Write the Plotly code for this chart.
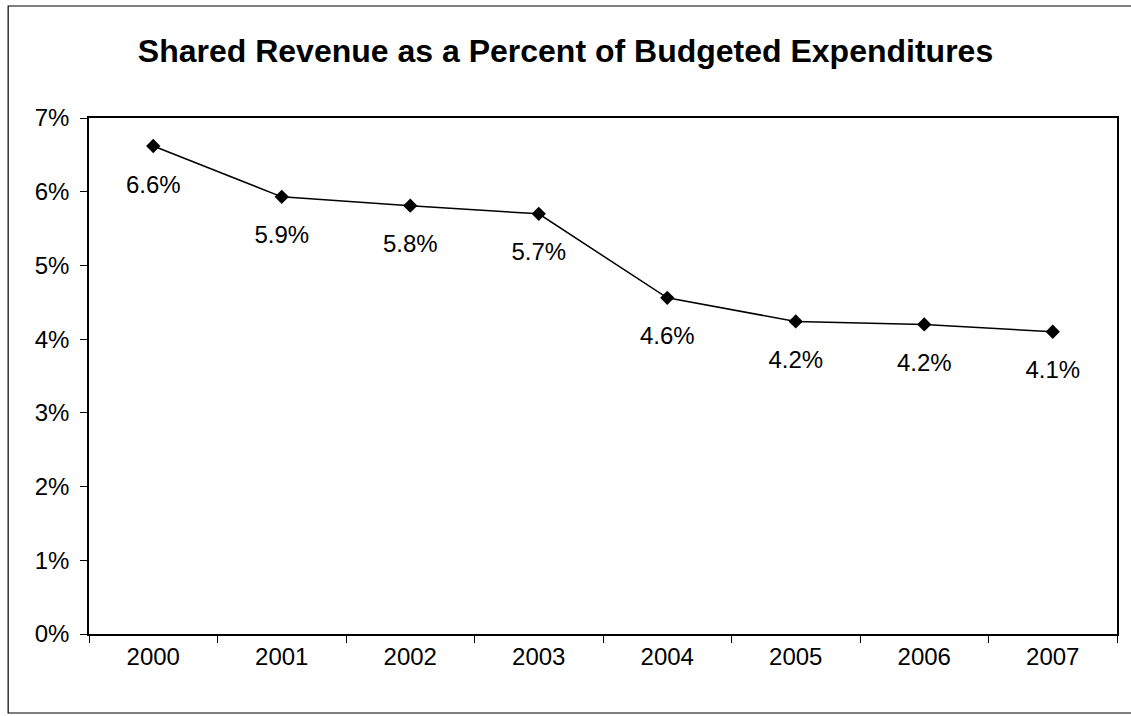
import plotly.graph_objects as go

years = ["2000", "2001", "2002", "2003", "2004", "2005", "2006", "2007"]
values = [6.62, 5.93, 5.81, 5.70, 4.56, 4.24, 4.20, 4.10]
labels = ["6.6%", "5.9%", "5.8%", "5.7%", "4.6%", "4.2%", "4.2%", "4.1%"]
y_ticks = [0, 1, 2, 3, 4, 5, 6, 7]
y_tick_text = ["0%", "1%", "2%", "3%", "4%", "5%", "6%", "7%"]
title = "Shared Revenue as a Percent of Budgeted Expenditures"

FONT = "Arial"

fig = go.Figure()
# invisible large markers push the value labels down below each point
fig.add_trace(go.Scatter(
    x=years, y=values, mode="markers+text", text=labels,
    textposition="bottom center",
    marker=dict(size=44, color="rgba(0,0,0,0)"),
    textfont=dict(family=FONT, size=24, color="black"),
    hoverinfo="skip", showlegend=False,
))
fig.add_trace(go.Scatter(
    x=years, y=values, mode="lines+markers",
    line=dict(color="black", width=1.5),
    marker=dict(symbol="diamond", size=11, color="black"),
    hoverinfo="skip", showlegend=False,
))

fig.update_layout(
    width=1131, height=716,
    margin=dict(l=89, r=12, t=118, b=82),
    paper_bgcolor="white", plot_bgcolor="white",
    title=dict(text="<b>" + title + "</b>", x=0.5, xanchor="center",
               y=1 - 51 / 716, yanchor="middle",
               font=dict(family=FONT, size=32, color="black")),
    font=dict(family=FONT, size=24, color="black"),
)
fig.update_xaxes(type="category", showgrid=False, showline=True, linecolor="black",
                 linewidth=1.5, mirror=True, ticks="outside", tickson="boundaries",
                 ticklen=7, tickcolor="black", range=[-0.5, 7.5],
                 tickfont=dict(family=FONT, size=24, color="black"), zeroline=False)
fig.update_yaxes(range=[0, 7], tickmode="array", tickvals=y_ticks, ticktext=y_tick_text,
                 showgrid=False, showline=True, linecolor="black", linewidth=1.5,
                 mirror=True, ticks="outside", ticklen=7, tickcolor="black",
                 ticklabelstandoff=6,
                 tickfont=dict(family=FONT, size=24, color="black"), zeroline=False)
fig.add_shape(type="rect", xref="paper", yref="paper",
              x0=-81 / 1030, x1=1.02, y0=-79 / 516, y1=1 + 112 / 516,
              line=dict(color="black", width=1.2))

fig.write_html("out.html")
